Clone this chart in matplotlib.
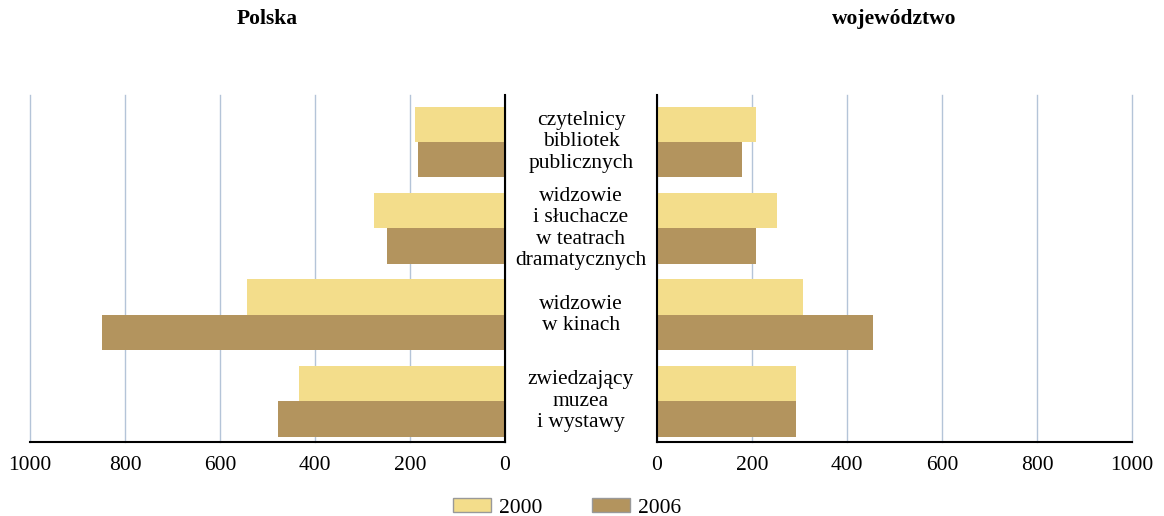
import numpy as np
import matplotlib.pyplot as plt
from matplotlib.patches import Patch

plt.rcParams['font.family'] = ['Liberation Serif', 'DejaVu Serif']

## Data
categories = ['czytelnicy\nbibliotek\npublicznych',
              'widzowie\ni słuchacze\nw teatrach\ndramatycznych',
              'widzowie\nw kinach',
              'zwiedzający\nmuzea\ni wystawy']
polska_2000 = [190, 276, 543, 434]
polska_2006 = [183, 248, 848, 478]
woj_2000 = [208, 253, 307, 293]
woj_2006 = [179, 208, 455, 293]
years = ['2000', '2006']
ticks = [0, 200, 400, 600, 800, 1000]

c2000, c2006 = '#F3DD8B', '#B3945E'
grid_c = '#B4C4D8'
fs = 15.5

fig = plt.figure(figsize=(11.64, 5.16), dpi=100)
ax_l = fig.add_axes([30/1164, 74/516, 475/1164, 347/516])
ax_r = fig.add_axes([657/1164, 74/516, 475/1164, 347/516])

y = np.arange(len(categories))
h = 0.41

for ax, v00, v06, title in [(ax_l, polska_2000, polska_2006, 'Polska'),
                            (ax_r, woj_2000, woj_2006, 'województwo')]:
    ax.barh(y - h/2, v00, height=h, color=c2000, zorder=2)
    ax.barh(y + h/2, v06, height=h, color=c2006, zorder=2)
    ax.set_ylim(3.47, -0.543)
    ax.set_xticks(ticks)
    ax.set_yticks([])
    ax.grid(axis='x', color=grid_c, lw=1, zorder=0)
    for gl in ax.get_xgridlines():
        gl.set_clip_on(False)
    ax.tick_params(axis='x', length=0, pad=10, labelsize=fs)
    ax.spines['top'].set_visible(False)
    ax.spines['bottom'].set_linewidth(1.5)
    ax.spines['bottom'].set_zorder(3)
    ax.text(0.5, 1.0 + 76/347, title, transform=ax.transAxes, ha='center',
            va='center', fontsize=fs, fontweight='bold')

ax_l.set_xlim(1000, 0)
ax_l.spines['left'].set_visible(False)
ax_l.spines['right'].set_linewidth(1.5)
ax_r.set_xlim(0, 1000)
ax_r.spines['right'].set_visible(False)
ax_r.spines['left'].set_linewidth(1.5)

## Category labels between the panels
for yi, cat in zip(y, categories):
    ax_l.annotate(cat, xy=(1.0, yi), xycoords=('axes fraction', 'data'),
                  xytext=(76*0.72, 0), textcoords='offset points',
                  ha='center', va='center', fontsize=fs, linespacing=1.18)

handles = [Patch(facecolor=c, edgecolor='#999999', lw=1) for c in (c2000, c2006)]
fig.legend(handles, years, loc='center', bbox_to_anchor=(0.487, 1 - 508/516),
           ncol=2, frameon=False, fontsize=fs, handlelength=1.77,
           handleheight=0.65, handletextpad=0.37, columnspacing=2.3)

plt.savefig('out.png', dpi=100)
